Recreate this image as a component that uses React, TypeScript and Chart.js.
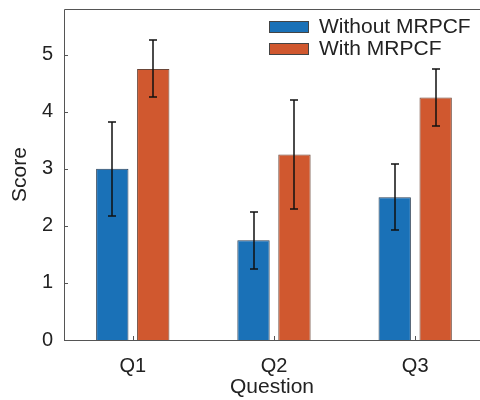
import React, { useEffect, useRef } from "react";
import { Chart, registerables } from "chart.js";

Chart.register(...registerables);

const categories = ["Q1", "Q2", "Q3"];
const seriesLabels = ["Without MRPCF", "With MRPCF"];
const withoutValues = [3.0, 1.75, 2.5];
const withoutErrors = [0.82, 0.5, 0.58];
const withValues = [4.75, 3.25, 4.25];
const withErrors = [0.5, 0.95, 0.5];
const yTicks = [0, 1, 2, 3, 4, 5];
const colors = ["#1a71b7", "#d0582f"];

const FONT = "'Liberation Sans', Arial, Helvetica, sans-serif";

const errorBarPlugin = {
  id: "errorBars",
  afterDatasetsDraw(chart: any) {
    const ctx = chart.ctx;
    const y = chart.scales.y;
    ctx.save();
    ctx.strokeStyle = "#111";
    ctx.lineWidth = 1.5;
    chart.data.datasets.forEach((ds: any, di: number) => {
      const meta = chart.getDatasetMeta(di);
      meta.data.forEach((bar: any, i: number) => {
        const v = ds.data[i].y;
        const e = ds.errors[i];
        const x = Math.round(bar.x);
        const top = Math.round(y.getPixelForValue(v + e));
        const bot = Math.round(y.getPixelForValue(v - e));
        ctx.beginPath();
        ctx.moveTo(x, top);
        ctx.lineTo(x, bot);
        ctx.moveTo(x - 4, top);
        ctx.lineTo(x + 4, top);
        ctx.moveTo(x - 4, bot);
        ctx.lineTo(x + 4, bot);
        ctx.stroke();
      });
    });
    ctx.restore();
  },
};

const boxPlugin = {
  id: "boxAxes",
  afterDraw(chart: any) {
    const ctx = chart.ctx;
    const a = chart.chartArea;
    const xs = chart.scales.x;
    const ys = chart.scales.y;
    ctx.save();
    ctx.strokeStyle = "#555";
    ctx.lineWidth = 1;
    ctx.beginPath();
    ctx.moveTo(a.right, a.top + 0.5);
    ctx.lineTo(a.left + 0.5, a.top + 0.5);
    ctx.lineTo(a.left + 0.5, a.bottom + 0.5);
    ctx.lineTo(a.right, a.bottom + 0.5);
    ctx.stroke();
    // inward ticks
    ctx.beginPath();
    yTicks.forEach((t) => {
      const py = Math.round(ys.getPixelForValue(t)) + 0.5;
      ctx.moveTo(a.left, py);
      ctx.lineTo(a.left + 4, py);
    });
    categories.forEach((_, i) => {
      const px = Math.round(xs.getPixelForValue(i + 1)) + 0.5;
      ctx.moveTo(px, a.bottom);
      ctx.lineTo(px, a.bottom - 4);
    });
    ctx.stroke();
    // legend
    ctx.font = `21px ${FONT}`;
    ctx.textBaseline = "middle";
    ctx.textAlign = "left";
    seriesLabels.forEach((lab, i) => {
      const by = 21 + i * 22;
      ctx.fillStyle = colors[i];
      ctx.fillRect(269, by, 40, 12);
      ctx.strokeStyle = "#444";
      ctx.lineWidth = 1;
      ctx.strokeRect(269.5, by + 0.5, 39, 11);
      ctx.fillStyle = "#222";
      ctx.fillText(lab, 319, by + 6.5);
    });
    ctx.restore();
  },
};

export default function App() {
  const ref = useRef<HTMLCanvasElement>(null);
  useEffect(() => {
    document.body.style.margin = "0";
    const canvas = ref.current!;
    const chart = new Chart(canvas, {
      type: "bar",
      data: {
        datasets: [
          {
            label: seriesLabels[0],
            data: withoutValues.map((v, i) => ({ x: i + 1, y: v })),
            errors: withoutErrors,
            backgroundColor: colors[0],
            borderColor: "#2b3f55",
            borderWidth: 1,
          } as any,
          {
            label: seriesLabels[1],
            data: withValues.map((v, i) => ({ x: i + 1, y: v })),
            errors: withErrors,
            backgroundColor: colors[1],
            borderColor: "#6b4638",
            borderWidth: 1,
          } as any,
        ],
      },
      options: {
        responsive: false,
        animation: false,
        devicePixelRatio: 1,
        layout: { padding: { top: 9, right: 0, left: 0, bottom: 0 } },
        datasets: { bar: { categoryPercentage: 0.58, barPercentage: 0.79 } },
        plugins: { legend: { display: false }, tooltip: { enabled: false } },
        scales: {
          x: {
            type: "linear",
            offset: false,
            bounds: "ticks",
            min: 0.513,
            max: 3.459,
            grid: { display: false, offset: false },
            border: { display: false },
            afterBuildTicks: (ax: any) => {
              ax.ticks = categories.map((_, i) => ({ value: i + 1 }));
            },
            afterFit: (ax: any) => {
              ax.height = 60;
              ax.paddingLeft = 0;
              ax.paddingRight = 0;
            },
            ticks: {
              color: "#222",
              font: { family: FONT, size: 20 },
              padding: 6,
              callback: (v: any) => categories[Math.round(v) - 1] ?? "",
            },
            title: {
              display: true,
              text: "Question",
              color: "#222",
              font: { family: FONT, size: 21 },
              padding: { top: 3, bottom: 0 },
            },
          },
          y: {
            min: 0,
            max: 5.8,
            grid: { display: false },
            border: { display: false },
            afterBuildTicks: (ax: any) => {
              ax.ticks = yTicks.map((v) => ({ value: v }));
            },
            afterFit: (ax: any) => {
              ax.width = 64;
              ax.paddingTop = 0;
              ax.paddingBottom = 0;
            },
            ticks: {
              color: "#222",
              font: { family: FONT, size: 20 },
              padding: 3,
            },
            title: {
              display: true,
              text: "Score",
              color: "#222",
              font: { family: FONT, size: 21 },
              padding: { top: 8, bottom: 0 },
            },
          },
        },
      },
      plugins: [errorBarPlugin, boxPlugin],
    });
    return () => chart.destroy();
  }, []);
  return <canvas ref={ref} width={480} height={400} style={{ display: "block" }} />;
}
